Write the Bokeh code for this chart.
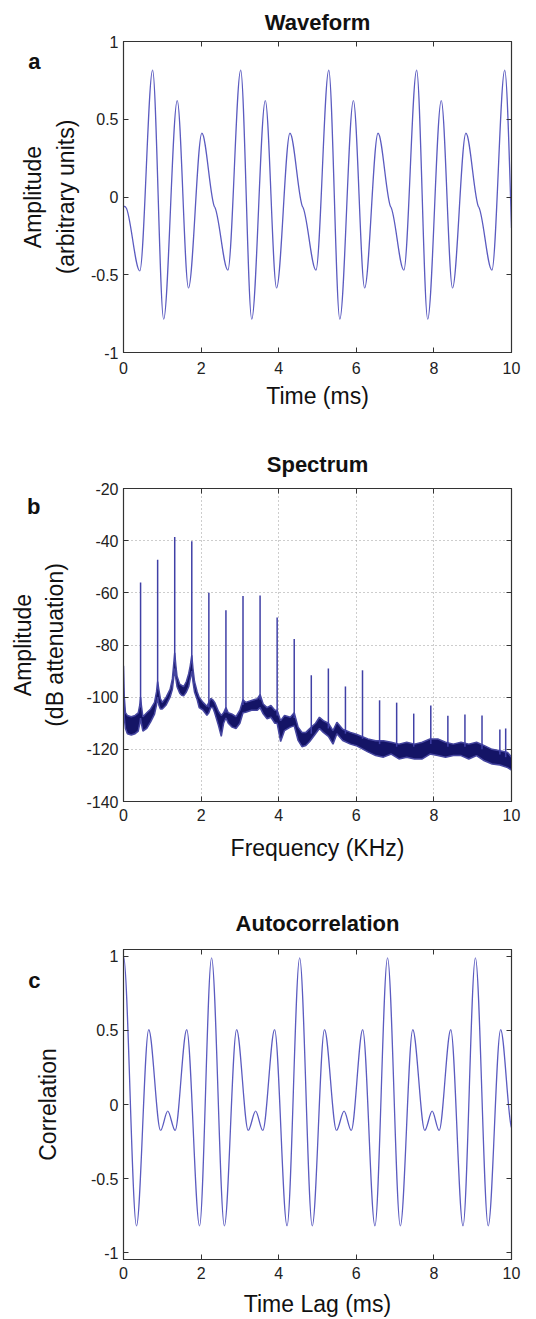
import numpy as np
from bokeh.plotting import figure
from bokeh.models import Range1d, FixedTicker, LinearAxis
from bokeh.layouts import column
from bokeh.embed import file_html
from bokeh.resources import INLINE

# ---------------- data ----------------
x_ticks = [0, 2, 4, 6, 8, 10]
x_tick_labels = ["0", "2", "4", "6", "8", "10"]

# (a) Waveform: extrema / shoulder points (time ms, amplitude, local slope)
wave_t = [0.0, 0.065, 0.42, 0.75, 1.035, 1.385, 1.675, 2.02, 2.35, 2.69,
          3.02, 3.305, 3.655, 3.945, 4.29, 4.62, 4.96,
          5.29, 5.575, 5.925, 6.215, 6.56, 6.89, 7.225,
          7.555, 7.84, 8.19, 8.48, 8.825, 9.155, 9.495,
          9.825, 10.0]
wave_v = [-0.058, -0.068, -0.475, 0.815, -0.785, 0.62, -0.585, 0.41, -0.065, -0.47,
          0.815, -0.785, 0.62, -0.585, 0.41, -0.065, -0.47,
          0.815, -0.785, 0.62, -0.585, 0.41, -0.065, -0.47,
          0.815, -0.785, 0.62, -0.585, 0.41, -0.065, -0.47,
          0.815, -0.2]
wave_slope = [-0.15, -0.3, 0, 0, 0, 0, 0, 0, -0.3, 0,
              0, 0, 0, 0, 0, -0.3, 0,
              0, 0, 0, 0, 0, -0.3, 0,
              0, 0, 0, 0, 0, -0.3, 0,
              0, -8.0]
wave_y_ticks = [-1, -0.5, 0, 0.5, 1]
wave_y_labels = ["-1", "-0.5", "0", "0.5", "1"]

# (b) Spectrum: noise band (kHz, lower dB, upper dB) and harmonic peaks
band_f = [0.00, 0.02, 0.05, 0.10, 0.20, 0.30, 0.38, 0.42, 0.44, 0.46,
          0.50, 0.60, 0.70, 0.80, 0.85, 0.88, 0.91, 0.95, 1.00, 1.10,
          1.20, 1.26, 1.29, 1.32, 1.35, 1.38, 1.45, 1.50, 1.55, 1.62,
          1.68, 1.72, 1.76, 1.79, 1.83, 1.90, 1.95, 2.05, 2.15, 2.20,
          2.25, 2.30, 2.35, 2.45, 2.52, 2.58, 2.64, 2.70, 2.80, 2.90,
          3.00, 3.08, 3.15, 3.30, 3.45, 3.52, 3.60, 3.70, 3.80, 3.90,
          3.96, 4.05, 4.15, 4.30, 4.40, 4.50, 4.60, 4.70, 4.80, 4.95,
          5.05, 5.15, 5.28, 5.40, 5.50, 5.65, 5.85, 6.00, 6.30, 6.50,
          6.70, 6.90, 7.10, 7.30, 7.50, 7.70, 7.90, 8.10, 8.30, 8.50,
          8.70, 8.90, 9.10, 9.30, 9.50, 9.70, 9.90, 10.00]
band_hi = [-88, -100, -106, -107, -107.5, -107, -106, -103, -100, -103,
           -107.5, -106, -104.5, -102, -98, -94, -97, -100.5, -102, -100,
           -97, -93, -88, -83, -88, -92, -95, -95.5, -96, -94,
           -91, -88, -84, -89, -94, -98, -100, -102, -103.5, -102,
           -100.5, -101, -102, -105.5, -107, -106, -104, -106, -106.5, -107.5,
           -105, -101, -102, -101.3, -100.6, -99, -102.6, -104, -103.2, -105,
           -105, -109, -107, -107.7, -106, -111.5, -113.5, -113.5, -112, -110,
           -107.7, -109, -110, -112.8, -109.6, -112.3, -113.5, -114.2, -116, -116.7,
           -116.7, -117.3, -118, -117.3, -118, -117.3, -116, -116, -117.3, -118,
           -117.3, -118, -117.3, -118.6, -120, -120.5, -121.2, -123]
band_lo = [-100, -108, -112, -114, -114.5, -114, -113, -110, -108, -110,
           -113, -112, -109.5, -106.5, -103, -100, -103, -104.5, -104.5, -103,
           -100, -97, -93, -89, -93, -96, -98.5, -99.3, -99.5, -98,
           -96, -93, -90, -94, -98, -101, -104, -105, -107, -106,
           -104, -104, -106, -111, -115, -110, -108, -110, -111.5, -112,
           -110, -106, -105.8, -105, -105, -104, -106.4, -108.3, -107.7, -110,
           -110, -117, -112.8, -111.5, -111, -116.6, -119, -118.5, -117, -114,
           -112, -113.5, -115, -118, -114, -116.6, -118, -118.6, -121, -122.4,
           -123, -121.8, -123.7, -123, -123.7, -123.7, -121.8, -122.4, -123, -122.4,
           -122.4, -123.7, -122.4, -124.4, -125.6, -126, -127, -128]
peak_f = [0.44, 0.88, 1.32, 1.76, 2.20, 2.64, 3.08, 3.52, 3.96, 4.40, 4.84, 5.28,
          5.72, 6.16, 6.60, 7.04, 7.48, 7.92, 8.36, 8.80, 9.24, 9.70, 9.85]
peak_top = [-56, -47.3, -38.6, -40.2, -60, -66.7, -61.2, -61, -69.5, -77.7, -91.6, -89,
            -95.9, -89.7, -101.2, -102.1, -106.3, -103.2, -107.1, -106.6, -107, -112.4, -112]
peak_base = [-104, -97, -86, -87, -104, -106, -103, -101, -107, -108, -114, -112,
             -114, -116, -118, -119, -119, -118, -119, -119, -120, -122, -123]
spec_y_ticks = [-140, -120, -100, -80, -60, -40, -20]
spec_y_labels = ["-140", "-120", "-100", "-80", "-60", "-40", "-20"]

# (c) Autocorrelation extrema (lag ms, correlation, slope)
ac_t = [0.0, 0.335, 0.65, 0.955, 1.14, 1.33, 1.63, 1.96, 2.27,
        2.60, 2.915, 3.215, 3.405, 3.59, 3.895, 4.215, 4.54,
        4.865, 5.18, 5.49, 5.685, 5.87, 6.165, 6.48, 6.805,
        7.135, 7.455, 7.765, 7.955, 8.135, 8.435, 8.75, 9.07,
        9.40, 9.72, 10.0]
ac_v = [1.0, -0.82, 0.505, -0.175, -0.045, -0.175, 0.505, -0.82, 0.99,
        -0.82, 0.505, -0.175, -0.045, -0.175, 0.505, -0.82, 0.99,
        -0.82, 0.505, -0.175, -0.045, -0.175, 0.505, -0.82, 0.99,
        -0.82, 0.505, -0.175, -0.045, -0.175, 0.505, -0.82, 0.99,
        -0.82, 0.505, -0.155]
ac_slope = [0] * 35 + [-0.6]
ac_y_ticks = [-1, -0.5, 0, 0.5, 1]
ac_y_labels = ["-1", "-0.5", "0", "0.5", "1"]

# panel letters and the y value at which each sits
panel_letters = ["a", "b", "c"]
letter_y = [0.872, -26.9, 0.838]

FONT = "Liberation Sans"
WAVE_COLOR = "#5b5bc0"


def hermite_bezier(p, t, v, m, **kw):
    t = np.asarray(t, float); v = np.asarray(v, float); m = np.asarray(m, float)
    d = t[1:] - t[:-1]
    p.bezier(x0=t[:-1], y0=v[:-1], x1=t[1:], y1=v[1:],
             cx0=t[:-1] + d / 3, cy0=v[:-1] + m[:-1] * d / 3,
             cx1=t[1:] - d / 3, cy1=v[1:] - m[1:] * d / 3, **kw)


def make_fig(height, top, bottom, y0, y1, yticks, ylabels, title, xlabel, ylabel,
             y_standoff, tick_standoff, x_standoff, title_standoff,
             letter, ly, letter_standoff, grid=False):
    p = figure(width=536, height=height, min_border_left=123, min_border_right=25,
               min_border_top=top, min_border_bottom=bottom,
               x_range=Range1d(0, 10), y_range=Range1d(y0, y1),
               output_backend="svg", toolbar_location=None, title=title,
               x_axis_label=xlabel, y_axis_label=ylabel)
    p.title.align = "center"
    p.title.text_font = FONT
    p.title.text_font_size = "22px"
    p.title.text_font_style = "bold"
    p.title.text_color = "#111111"
    p.title.standoff = title_standoff
    p.outline_line_color = "#333333"
    p.outline_line_width = 1.2
    p.background_fill_color = "white"
    p.border_fill_color = "white"
    for ax, ticks, labels in ((p.xaxis[0], x_ticks, x_tick_labels), (p.yaxis[0], yticks, ylabels)):
        ax.ticker = FixedTicker(ticks=ticks)
        ax.major_label_overrides = {t: l for t, l in zip(ticks, labels)}
        ax.major_tick_in = 5
        ax.major_tick_out = 0
        ax.minor_tick_line_color = None
        ax.axis_line_color = "#333333"
        ax.major_tick_line_color = "#333333"
        ax.major_label_text_font = FONT
        ax.major_label_text_font_size = "16px"
        ax.major_label_text_color = "#222222"
        ax.major_label_standoff = 5
        ax.axis_label_text_font = FONT
        ax.axis_label_text_font_size = "23px"
        ax.axis_label_text_font_style = "normal"
        ax.axis_label_text_color = "#111111"
        ax.axis_label_text_line_height = 1.25
    p.xaxis[0].major_label_standoff = tick_standoff
    p.yaxis[0].axis_label_standoff = y_standoff
    p.xaxis[0].axis_label_standoff = x_standoff
    for side, ticks in (("above", x_ticks), ("right", yticks)):
        ax = LinearAxis(ticker=FixedTicker(ticks=ticks), major_tick_in=5, major_tick_out=0,
                        minor_tick_line_color=None, major_label_text_color=None,
                        major_label_text_font_size="0px",
                        major_label_standoff=0, axis_line_color="#333333",
                        major_tick_line_color="#333333")
        p.add_layout(ax, side)
    # outer left axis that only carries the panel letter
    lax = LinearAxis(ticker=FixedTicker(ticks=[ly]), major_label_overrides={ly: letter},
                     major_tick_in=0, major_tick_out=0, major_tick_line_color=None,
                     minor_tick_line_color=None, axis_line_color=None,
                     major_label_standoff=letter_standoff,
                     major_label_text_font=FONT, major_label_text_font_size="22px",
                     major_label_text_font_style="bold", major_label_text_color="#111111")
    p.add_layout(lax, "left")
    if grid:
        p.xgrid.ticker = FixedTicker(ticks=x_ticks)
        p.ygrid.ticker = FixedTicker(ticks=yticks)
        for g in (p.xgrid[0], p.ygrid[0]):
            g.grid_line_color = "#9a9a9a"
            g.grid_line_dash = "1 3"
            g.grid_line_width = 1
    else:
        p.xgrid.grid_line_color = None
        p.ygrid.grid_line_color = None
    return p


# ---------------- (a) waveform ----------------
pa = make_fig(430, 40, 78, -1, 1, wave_y_ticks, wave_y_labels, "Waveform", "Time (ms)",
              "Amplitude\n(arbitrary units)", 9, 9, 6, 14,
              panel_letters[0], letter_y[0], -23)
hermite_bezier(pa, wave_t, wave_v, wave_slope, line_color=WAVE_COLOR, line_width=1.3)

# ---------------- (b) spectrum ----------------
pb = make_fig(440, 58, 69, -140, -20, spec_y_ticks, spec_y_labels, "Spectrum", "Frequency (KHz)",
              "Amplitude\n(dB attenuation)", 15, 7, 11, 24,
              panel_letters[1], letter_y[1], -34, grid=True)
pb.varea(x=band_f, y1=band_lo, y2=band_hi, fill_color="#141466", fill_alpha=1.0)
pb.line(band_f, band_hi, line_color="#4646a0", line_width=1.5)
pb.line(band_f, band_lo, line_color="#4646a0", line_width=1.5)
pb.segment(x0=peak_f, y0=peak_base, x1=peak_f, y1=peak_top, line_color="#4040a6", line_width=1.5)

# ---------------- (c) autocorrelation ----------------
pc = make_fig(449, 79, 59, -1.047, 1.047, ac_y_ticks, ac_y_labels, "Autocorrelation", "Time Lag (ms)",
              "Correlation", 27, 7, 9, 28,
              panel_letters[2], letter_y[2], -9)
hermite_bezier(pc, ac_t, ac_v, ac_slope, line_color=WAVE_COLOR, line_width=1.3)

layout = column(pa, pb, pc, spacing=0)
open("out.html", "w").write(file_html(layout, INLINE))
